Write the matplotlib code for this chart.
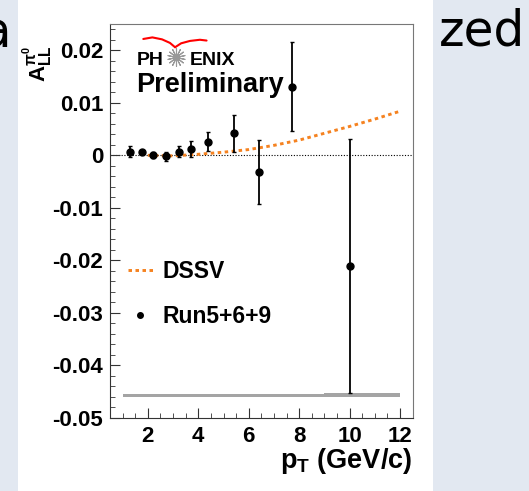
import matplotlib.pyplot as plt
from matplotlib import ticker
from matplotlib.patches import Rectangle

plt.rcParams['font.family'] = ['Liberation Sans', 'DejaVu Sans']
plt.rcParams['font.weight'] = 'bold'
plt.rcParams['mathtext.fontset'] = 'custom'
plt.rcParams['mathtext.rm'] = 'Liberation Sans:bold'
plt.rcParams['mathtext.bf'] = 'Liberation Sans:bold'
plt.rcParams['mathtext.it'] = 'Liberation Sans:bold'

# Run5+6+9 pi0 A_LL points
pt = [1.31, 1.77, 2.22, 2.72, 3.23, 3.71, 4.37, 5.40, 6.42, 7.73, 10.02]
all_vals = [0.0007, 0.0006, 0.0001, -0.0002, 0.0007, 0.0012, 0.0026, 0.0042, -0.0031, 0.0131, -0.0210]
all_err = [0.0010, 0.0004, 0.0006, 0.0008, 0.0011, 0.0015, 0.0018, 0.0035, 0.0061, 0.0085, 0.0242]

# DSSV curve
dssv_pt = [2, 3, 4, 5, 6, 7, 8, 9, 10, 11, 12]
dssv_vals = [0.0, -0.0001, 0.0002, 0.0006, 0.0011, 0.0019, 0.0029, 0.0042, 0.0055, 0.0069, 0.0084]

# relative luminosity systematic band at the bottom
sys_left = [1, 9]
sys_right = [9, 12]
sys_center = -0.0457
sys_half = [0.0003, 0.00037]

col_dssv = "#f58220"

fig = plt.figure(figsize=(5.29, 4.91), dpi=100)
fig.patch.set_facecolor("#e2e8f1")
fig.patches.append(Rectangle((18/529, 0), (433-18)/529, 1, transform=fig.transFigure,
                             facecolor="white", edgecolor="none", zorder=-10))
fig.text(12/529, 1 - 33/491, "a", ha="right", va="center", fontsize=36,
         fontweight="normal", family="DejaVu Sans", color="black")
fig.text(439/529, 1 - 32/491, "zed", ha="left", va="center", fontsize=35,
         fontweight="normal", family="DejaVu Sans", color="black")

ax = fig.add_axes([110/529, 73/491, 302.7/529, 394/491])
ax.set_facecolor("white")

ax.set_xlim(0.5, 12.5)
ax.set_ylim(-0.05, 0.025)

ax.axhline(0, color="black", lw=0.8, ls=(0, (1, 1.5)), zorder=1)

for l, r, h in zip(sys_left, sys_right, sys_half):
    ax.bar(l, 2*h, width=r-l, bottom=sys_center-h, align="edge", color="#a4a4a4", zorder=2)

dssv_line, = ax.plot(dssv_pt, dssv_vals, color=col_dssv, lw=2.1, ls=(0, (1.2, 1.2)), zorder=3, label="DSSV")

eb = ax.errorbar(pt, all_vals, yerr=all_err, fmt="o", color="black", ms=5, elinewidth=1.3,
                 capsize=1.2, capthick=1.0, zorder=4, label="Run5+6+9")

ax.xaxis.set_major_locator(ticker.MultipleLocator(2))
ax.xaxis.set_minor_locator(ticker.MultipleLocator(0.5))
ax.yaxis.set_major_locator(ticker.MultipleLocator(0.01))
ax.yaxis.set_minor_locator(ticker.MultipleLocator(0.002))
ax.yaxis.set_major_formatter(ticker.FuncFormatter(lambda v, pos: "0" if abs(v) < 1e-9 else "{:.2f}".format(v)))
ax.xaxis.set_major_formatter(ticker.FuncFormatter(lambda v, pos: "{:g}".format(v)))

ax.tick_params(which="both", direction="in", top=False, right=False, labelsize=16, color="#333333")
ax.tick_params(axis="y", which="major", length=7.2, pad=5)
ax.tick_params(axis="y", which="minor", length=3.6)
ax.tick_params(axis="x", which="major", length=7.2, pad=6)
ax.tick_params(axis="x", which="minor", length=3.8)

for s in ["left", "bottom"]:
    ax.spines[s].set_color("#333333")
for s in ["top", "right"]:
    ax.spines[s].set_color("#777777")

ax.set_xlabel(r"$\mathbf{p}_\mathbf{T}$ (GeV/c)", fontsize=19.5, fontweight="bold", ha="right", va="top")
ax.xaxis.set_label_coords(1.0, -0.072)
ax.set_ylabel(r"$\mathbf{A}_{\mathbf{LL}}^{\pi^{0}}$", fontsize=16, fontweight="bold", va="center", ha="center")
ax.yaxis.set_label_coords(-0.238, 0.9)

# PHENIX logo
ax.plot([0.110, 0.140, 0.172, 0.198, 0.215], [0.962, 0.966, 0.961, 0.952, 0.941],
        color="red", lw=1.5, transform=ax.transAxes, solid_capstyle="round")
ax.plot([0.215, 0.235, 0.264, 0.297, 0.319], [0.941, 0.951, 0.957, 0.960, 0.958],
        color="red", lw=1.5, transform=ax.transAxes, solid_capstyle="round")
ax.text(0.088, 0.896, "PH", transform=ax.transAxes, fontsize=14, fontweight="bold", va="baseline")
ax.text(0.262, 0.896, "ENIX", transform=ax.transAxes, fontsize=14, fontweight="bold", va="baseline")
ax.plot([0.218], [0.917], marker=(14, 2, 0), ms=13, mew=0.8, color="#999999", transform=ax.transAxes)
ax.text(0.086, 0.828, "Preliminary", transform=ax.transAxes, fontsize=19.5, fontweight="bold", va="baseline")

leg = ax.legend([dssv_line, eb[0]], ["DSSV", "Run5+6+9"], loc="upper left",
                bbox_to_anchor=(0.058, 0.402), frameon=False, fontsize=16.5,
                handlelength=1.11, handletextpad=0.43, labelspacing=0.99,
                borderpad=0, borderaxespad=0, markerscale=0.8)

plt.savefig("out.png", dpi=100, facecolor=fig.get_facecolor())
